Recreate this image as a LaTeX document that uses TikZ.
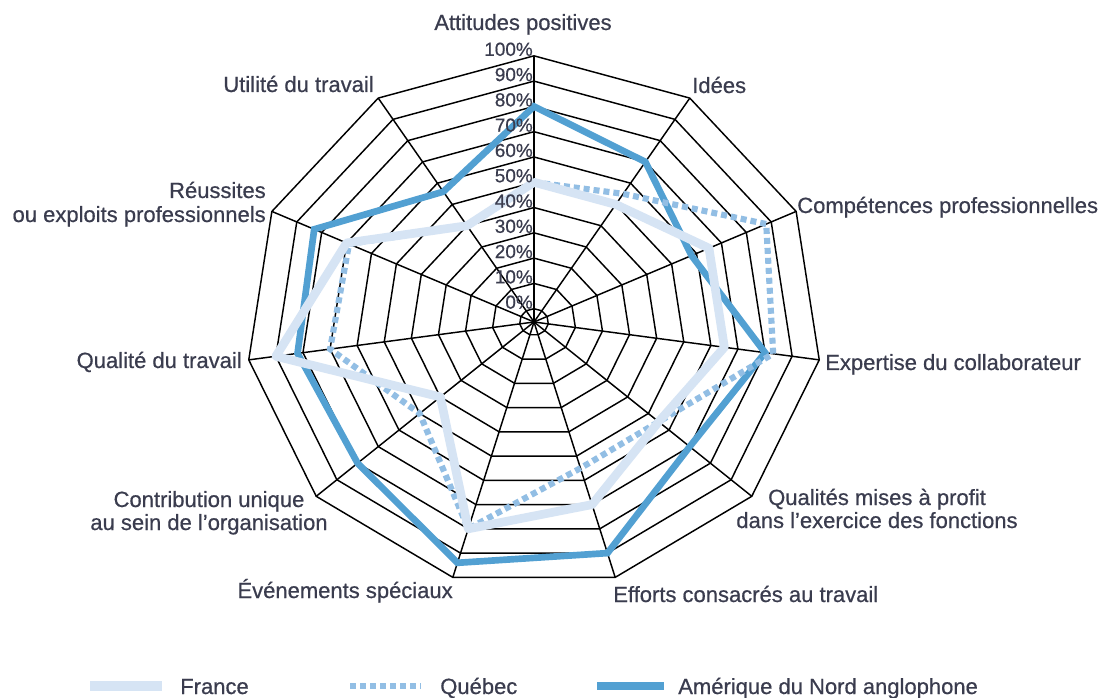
\documentclass[tikz,border=0pt]{standalone}
\usepackage{fontspec}
\setmainfont{Liberation Sans}
\newfontfamily\labfont{Liberation Sans}[FakeBold=0.6]
\definecolor{txt}{RGB}{58,60,78}
\definecolor{frc}{RGB}{214,228,244}
\definecolor{qcc}{RGB}{146,190,228}
\definecolor{nac}{RGB}{82,160,210}
\begin{document}
\begin{tikzpicture}[x=0.75pt,y=-0.75pt,
  grid/.style={black,line width=1.1pt},
  lab/.style={text=txt,font=\labfont\fontsize{16.5}{18}\selectfont,inner sep=0pt},
  pct/.style={text=txt,font=\labfont\fontsize{14.2}{16}\selectfont,inner sep=0pt,anchor=base east},
  frline/.style={frc,line width=6.5pt,line join=round},
  qcline/.style={qcc,line width=4.6pt,dash pattern=on 4.5pt off 3pt},
  naline/.style={nac,line width=5pt,line join=miter}]
\useasboundingbox (0,0) rectangle (1099,698);
\fill[white] (0,0) rectangle (1099,698);
\coordinate (C) at (534,322);
% outer vertices
\foreach \k in {0,...,10}{
  \coordinate (V\k) at ({534+288*sin(\k*360/11)},{322-266*cos(\k*360/11)});
}
% rings
\foreach \v in {0,10,...,100}{
  \pgfmathsetmacro\rr{0.05+0.0095*\v}
  \draw[grid] plot[samples at={0,...,10}] ({534+288*\rr*sin(\x*360/11)},{322-266*\rr*cos(\x*360/11)}) -- cycle;
}
% spokes
\foreach \k in {0,...,10}{ \draw[grid] (C) -- (V\k); }
% data
\foreach \v [count=\i from 0] in {80,70,58,80,70,90,94,80,82,83,56}{
  \pgfmathsetmacro\rr{0.05+0.0095*\v}
  \coordinate (N\i) at ({534+288*\rr*sin(\i*360/11)},{322-266*\rr*cos(\i*360/11)});
}
\foreach \v [count=\i from 0] in {50,50,65,65,55,70,80,40,90,70,40}{
  \pgfmathsetmacro\rr{0.05+0.0095*\v}
  \coordinate (F\i) at ({534+288*\rr*sin(\i*360/11)},{322-266*\rr*cos(\i*360/11)});
}
\foreach \v [count=\i from 0] in {50,55,88,83,55,55,80,50,70,69,40}{
  \pgfmathsetmacro\rr{0.05+0.0095*\v}
  \coordinate (Q\i) at ({534+288*\rr*sin(\i*360/11)},{322-266*\rr*cos(\i*360/11)});
}
\draw[naline] (N0)--(N1)--(N2)--(N3)--(N4)--(N5)--(N6)--(N7)--(N8)--(N9)--(N10)--cycle;
\draw[qcline] (Q0)--(Q1)--(Q2)--(Q3)--(Q4)--(Q5)--(Q6)--(Q7)--(Q8)--(Q9)--(Q10)--cycle;
\draw[frline] (F0)--(F1)--(F2)--(F3)--(F4)--(F5)--(F6)--(F7)--(F8)--(F9)--(F10)--cycle;
% percentage labels
\foreach \v in {0,10,...,100}{
  \pgfmathsetmacro\rr{0.05+0.0095*\v}
  \node[pct] (p\v) at (533,{322-266*\rr}) {\v\%};
}
% axis labels
\node[lab,anchor=base] (l0) at (523,30) {Attitudes positives};
\node[lab,anchor=base west] (l1) at (692,93) {Idées};
\node[lab,anchor=base west] (l2) at (797,213) {Compétences professionnelles};
\node[lab,anchor=base west] (l3) at (825,370) {Expertise du collaborateur};
\node[lab,anchor=base] (l4a) at (877,505) {Qualités mises à profit};
\node[lab,anchor=base] (l4b) at (877,528) {dans l’exercice des fonctions};
\node[lab,anchor=base west] (l5) at (613,602) {Efforts consacrés au travail};
\node[lab,anchor=base east] (l6) at (453,598) {Événements spéciaux};
\node[lab,anchor=base] (l7a) at (209,507) {Contribution unique};
\node[lab,anchor=base] (l7b) at (209,530) {au sein de l’organisation};
\node[lab,anchor=base east] (l8) at (242,368) {Qualité du travail};
\node[lab,anchor=base east] (l9a) at (266,198) {Réussites};
\node[lab,anchor=base east] (l9b) at (266,222) {ou exploits professionnels};
\node[lab,anchor=base east] (l10) at (374,92) {Utilité du travail};
% legend
\coordinate (fa) at (90,686); \coordinate (fb) at (162,686);
\coordinate (qa) at (350,686); \coordinate (qb) at (421,686);
\coordinate (na) at (597,686); \coordinate (nb) at (664,686);
\draw[frc,line width=7pt] (fa) -- (fb);
\draw[qcline] (qa) -- (qb);
\draw[nac,line width=6pt] (na) -- (nb);
\node[lab,anchor=base west] (tf) at (180,694) {France};
\node[lab,anchor=base west] (tq) at (440,694) {Québec};
\node[lab,anchor=base west] (tn) at (678,694) {Amérique du Nord anglophone};
\end{tikzpicture}
\end{document}
